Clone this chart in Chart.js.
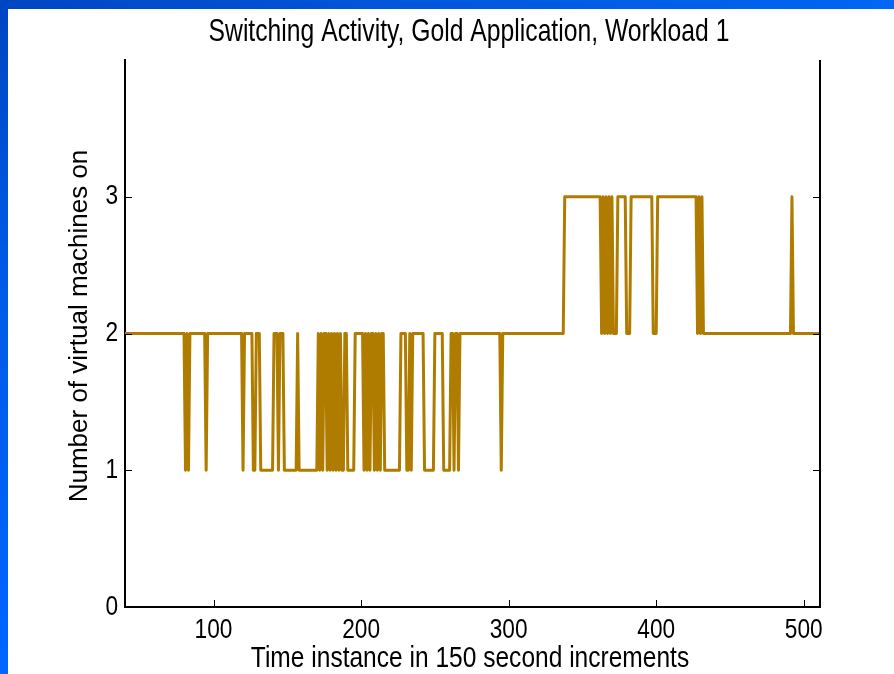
<!DOCTYPE html>
<html>
<head>
<meta charset="utf-8">
<title>Switching Activity</title>
<script src="https://cdn.jsdelivr.net/npm/chart.js@4.4.0/dist/chart.umd.min.js"></script>
<style>
  html, body { margin: 0; padding: 0; background: #fff; }
  #wrap { position: relative; width: 894px; height: 674px; overflow: hidden; background: #fff; }
  #frameTop { position: absolute; left: 0; top: 0; width: 894px; height: 9px;
    background: linear-gradient(to right, #0046c2, #0058de 50%, #0066f4); }
  #frameLeft { position: absolute; left: 0; top: 0; width: 8px; height: 674px;
    background: linear-gradient(to bottom, #0046c2, #005ae6 40%, #0066ff); }
  canvas { position: absolute; left: 0; top: 0; }
</style>
</head>
<body>
<div id="wrap">
  <canvas id="switchChart" width="894" height="674"></canvas>
  <div id="frameTop"></div>
  <div id="frameLeft"></div>
</div>
<script>
// Step changes: time instance and number of VMs on
const timeSteps = [40, 80, 81, 82, 83, 84, 94, 95, 96, 119, 120, 121,
  126, 127, 128, 129, 131, 132, 140, 141, 143, 144, 145, 147, 148, 156, 157, 158,
  170, 171, 172, 173, 174, 175, 176, 177, 178, 179, 180, 181, 182, 183, 184, 185, 186, 187,
  188, 189, 190, 191, 195, 196, 201,
  202, 203, 204, 205, 206, 207, 208, 209, 210, 211, 212, 213, 214, 215, 216,
  226, 227, 230, 231, 232, 233, 234, 235, 242, 243, 249, 250, 255, 256,
  260, 261, 262, 263, 264, 265, 266, 267, 294, 295, 296,
  337, 338, 362, 363, 364, 365, 366, 367, 368, 369, 370, 371, 373, 374, 379, 380, 382, 383,
  397, 398, 400, 401, 427, 428, 429, 430, 431, 432, 491, 492, 493, 511];
const vmsOn = [2, 2, 1, 2, 1, 2, 2, 1, 2, 2, 1, 2,
  2, 1, 1, 2, 2, 1, 1, 2, 2, 1, 2, 2, 1, 1, 2, 1,
  1, 2, 1, 2, 1, 2, 2, 1, 2, 1, 2, 1, 2, 1, 2, 1, 2, 1,
  1, 2, 2, 1, 1, 2, 2,
  1, 2, 1, 2, 1, 2, 2, 1, 2, 1, 2, 1, 2, 2, 1,
  1, 2, 2, 1, 1, 2, 1, 2, 2, 1, 1, 2, 2, 1,
  1, 2, 2, 1, 2, 2, 1, 2, 2, 1, 2,
  2, 3, 3, 2, 3, 2, 3, 2, 3, 2, 3, 2, 2, 3, 3, 2, 2, 3,
  3, 2, 2, 3, 3, 2, 3, 2, 3, 2, 2, 3, 2, 2];

const xTicks = [100, 200, 300, 400, 500];
const yTicks = [0, 1, 2, 3];

const chartTitle = 'Switching Activity, Gold Application, Workload 1';
const xTitle = 'Time instance in 150 second increments';
const yTitle = 'Number of virtual machines on';

const FONT = '"Liberation Sans", Arial, Helvetica, sans-serif';
const SQUEEZE = 0.81; // the slide text is narrow (stretched Helvetica)

function drawText(ctx, text, x, y, size, align, sx, rotate) {
  ctx.save();
  ctx.translate(x, y);
  if (rotate) ctx.rotate(-Math.PI / 2);
  ctx.scale(sx, 1);
  ctx.font = size + 'px ' + FONT;
  ctx.fillStyle = '#000';
  ctx.textAlign = align;
  ctx.textBaseline = 'middle';
  ctx.fillText(text, 0, 0);
  ctx.restore();
}

// MATLAB style: ticks point into the plot, box line on the right, narrow labels
const matlabAxes = {
  id: 'matlabAxes',
  afterDraw(chart) {
    const { ctx, chartArea: a, scales: { x, y } } = chart;
    ctx.save();
    ctx.strokeStyle = '#000';
    ctx.lineWidth = 1;
    ctx.beginPath();
    x.ticks.forEach(t => {
      const px = Math.round(x.getPixelForValue(t.value)) + 0.5;
      ctx.moveTo(px, a.bottom);
      ctx.lineTo(px, a.bottom - 7);
    });
    y.ticks.forEach(t => {
      const py = Math.round(y.getPixelForValue(t.value)) + 0.5;
      ctx.moveTo(a.left, py);
      ctx.lineTo(a.left + 7, py);
      ctx.moveTo(a.right, py);
      ctx.lineTo(a.right - 7, py);
    });
    ctx.stroke();
    ctx.lineWidth = 2;
    ctx.beginPath();
    ctx.moveTo(a.right, a.top);
    ctx.lineTo(a.right, a.bottom);
    ctx.stroke();
    ctx.restore();

    xTicks.forEach(v => drawText(ctx, String(v), x.getPixelForValue(v), a.bottom + 23, 28, 'center', SQUEEZE, false));
    yTicks.forEach(v => drawText(ctx, String(v), a.left - 7, y.getPixelForValue(v), 28, 'right', SQUEEZE, false));
    drawText(ctx, chartTitle, 469, 33, 30.5, 'center', SQUEEZE, false);
    drawText(ctx, xTitle, 470, 659, 30.3, 'center', SQUEEZE, false);
    drawText(ctx, yTitle, 80, 326, 26, 'center', 1, true);
  }
};

const ctx = document.getElementById('switchChart').getContext('2d');
const switchChart = new Chart(ctx, {
  type: 'line',
  data: {
    datasets: [{
      label: 'VMs on',
      data: timeSteps.map((t, i) => ({ x: t, y: vmsOn[i] })),
      borderColor: '#b07c00',
      borderWidth: 3,
      borderJoinStyle: 'round',
      pointRadius: 0,
      tension: 0,
      fill: false
    }]
  },
  options: {
    responsive: false,
    animation: false,
    layout: {
      padding: { left: 125, right: 74, top: 60, bottom: 67 }
    },
    plugins: {
      legend: { display: false },
      tooltip: { enabled: false },
      title: { display: false }
    },
    scales: {
      x: {
        type: 'linear',
        min: 40,
        max: 511,
        afterBuildTicks: axis => { axis.ticks = xTicks.map(v => ({ value: v })); },
        afterFit: axis => { axis.height = 0; },
        grid: { display: false, drawTicks: false },
        border: { color: '#000', width: 2 },
        ticks: { display: false }
      },
      y: {
        min: 0,
        max: 4,
        afterBuildTicks: axis => { axis.ticks = yTicks.map(v => ({ value: v })); },
        afterFit: axis => { axis.width = 0; },
        grid: { display: false, drawTicks: false },
        border: { color: '#000', width: 2 },
        ticks: { display: false }
      }
    }
  },
  plugins: [matlabAxes]
});
</script>
</body>
</html>
